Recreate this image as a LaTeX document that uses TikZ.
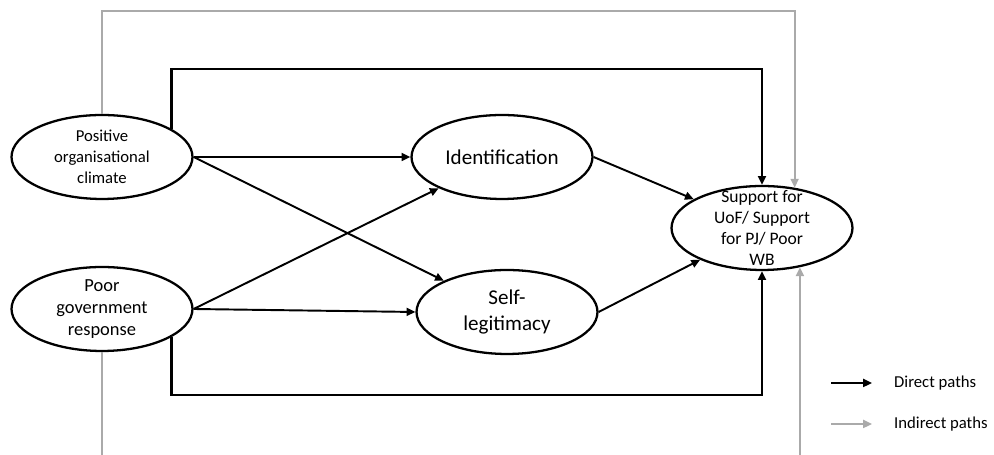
\documentclass[tikz,border=0pt]{standalone}
\usepackage{fontspec}
\setmainfont{Carlito}
\usepackage{tikz}
\usetikzlibrary{calc}
\usetikzlibrary{positioning}
\usetikzlibrary{shapes.geometric}
\usetikzlibrary{arrows.meta}

\definecolor{pathgray}{RGB}{170,170,170}

\begin{document}
\begin{tikzpicture}[x=0.02cm,y=0.02cm,
  var/.style={draw, ellipse, line width=1.3pt, minimum width=3.62cm,
              minimum height=1.68cm, inner sep=0pt, align=center},
  direct/.style={line width=1.1pt, -{Triangle[length=5pt,width=4.5pt]}},
  frame/.style={line width=1.5pt, -{Triangle[length=5pt,width=4.5pt]}},
  indirect/.style={line width=1.1pt, draw=pathgray,
                   -{Triangle[length=5pt,width=4.5pt]}},
  small/.style={font=\fontsize{9.5}{12}\selectfont},
  big/.style={font=\fontsize{12}{14.5}\selectfont}]
 \useasboundingbox (0,0) rectangle (994,455);
 % variables
 \node[var, small] (poc) at (102,298) {Positive\\organisational\\climate};
 \node[var, font=\fontsize{10.5}{12.5}\selectfont, inner ysep=-2pt] (pgr)
      at (102,146) {Poor\\government\\response};
 \node[var, big] (id) at (502,298) {Identification};
 \node[var, big] (sl) at (507,143) {Self-\\legitimacy};
 \node[var, font=\fontsize{10}{12}\selectfont, inner ysep=-7pt] (sup)
      at (762,227) {Support for\\UoF/ Support\\for PJ/ Poor\\WB};
 % paths
 \draw[direct] (poc.east) -- (id.west);
 \draw[direct] (poc.east) -- (sl);
 \draw[direct] (pgr.east) -- (id);
 \draw[direct] (pgr.east) -- (sl.west);
 \draw[direct] (id.east) -- (sup);
 \draw[direct] (sl.east) -- (sup);
 \draw[frame] (poc.22) |- (sup.north |- 0,386) -- (sup.north);
 \draw[frame] (pgr.-22) |- (sup.south |- 0,60) -- (sup.south);
 \draw[indirect] (poc.north) |- (sup.51 |- 0,444) -- (sup.51);
 \draw[indirect, -] (pgr.south) -- (pgr.south |- 0,0);
 \draw[indirect] (sup.-46 |- 0,0) -- (sup.-46);
 % legend
 \node[small, anchor=west] (ldir) at (888,72) {Direct paths};
 \node[small, anchor=west] (lind) at (888,31) {Indirect paths};
 \draw[direct] ([xshift=-1.14cm]ldir.west) -- ([xshift=-0.32cm]ldir.west);
 \draw[indirect] ([xshift=-1.14cm]lind.west) -- ([xshift=-0.32cm]lind.west);
\end{tikzpicture}
\end{document}
